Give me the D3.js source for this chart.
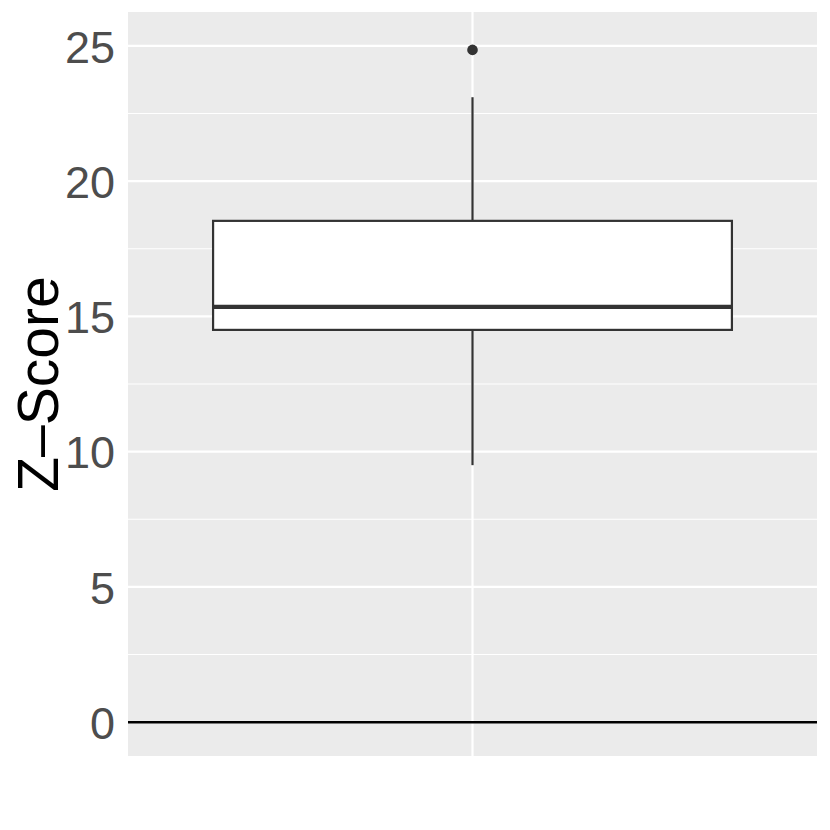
<!DOCTYPE html>
<html>
<head>
<meta charset="utf-8">
<script src="https://cdn.jsdelivr.net/npm/d3@7"></script>
<style>
  body { margin: 0; background: #fff; }
  svg text { font-family: "Liberation Sans", Arial, sans-serif; }
</style>
</head>
<body>
<div id="chart"></div>
<script>
// box summary
let categories = ["all"];
let lowerWhisker = [9.5];
let q1 = [14.5];
let median = [15.35];
let q3 = [18.53];
let upperWhisker = [23.1];
let outliers = [[24.85]];
let yTicks = [0, 5, 10, 15, 20, 25];
let yMinor = [2.5, 7.5, 12.5, 17.5, 22.5];

let W = 830, H = 830;
let panel = {left: 128, right: 817, top: 12, bottom: 756};

let svg = d3.select("#chart")
    .append("svg")
    .attr("width", W)
    .attr("height", H);

let x = d3.scaleBand()
    .domain(categories)
    .range([panel.left, panel.right])
    .paddingInner(0)
    .paddingOuter(0.164);

let y = d3.scaleLinear()
    .domain([-1.25, 26.25])
    .range([panel.bottom, panel.top]);

// panel background
svg.append("rect")
    .attr("x", panel.left)
    .attr("y", panel.top)
    .attr("width", panel.right - panel.left)
    .attr("height", panel.bottom - panel.top)
    .attr("fill", "#EBEBEB");

// grid lines
svg.selectAll(".minor")
    .data(yMinor)
    .enter()
    .append("line")
    .attr("x1", panel.left).attr("x2", panel.right)
    .attr("y1", d => y(d)).attr("y2", d => y(d))
    .attr("stroke", "#fff").attr("stroke-width", 1.1);

svg.selectAll(".major")
    .data(yTicks)
    .enter()
    .append("line")
    .attr("x1", panel.left).attr("x2", panel.right)
    .attr("y1", d => y(d)).attr("y2", d => y(d))
    .attr("stroke", "#fff").attr("stroke-width", 2.2);

svg.selectAll(".vmajor")
    .data(categories)
    .enter()
    .append("line")
    .attr("x1", d => x(d) + x.bandwidth() / 2)
    .attr("x2", d => x(d) + x.bandwidth() / 2)
    .attr("y1", panel.top).attr("y2", panel.bottom)
    .attr("stroke", "#fff").attr("stroke-width", 2.2);

// y axis labels
let yAxis = d3.axisLeft(y).tickValues(yTicks).tickSize(0).tickPadding(13);
let gy = svg.append("g")
    .attr("transform", `translate(${panel.left},0)`)
    .call(yAxis);
gy.select(".domain").remove();
gy.selectAll("text")
    .attr("fill", "#4D4D4D")
    .style("font-size", "45px")
    .attr("dy", "0.36em");

// box plot
let boxes = svg.selectAll(".box")
    .data(categories)
    .enter()
    .append("g");

boxes.append("line")
    .attr("x1", d => x(d) + x.bandwidth() / 2)
    .attr("x2", d => x(d) + x.bandwidth() / 2)
    .attr("y1", (d, i) => y(upperWhisker[i]))
    .attr("y2", (d, i) => y(q3[i]))
    .attr("stroke", "#333").attr("stroke-width", 2.2);

boxes.append("line")
    .attr("x1", d => x(d) + x.bandwidth() / 2)
    .attr("x2", d => x(d) + x.bandwidth() / 2)
    .attr("y1", (d, i) => y(q1[i]))
    .attr("y2", (d, i) => y(lowerWhisker[i]))
    .attr("stroke", "#333").attr("stroke-width", 2.2);

boxes.append("rect")
    .attr("x", d => x(d))
    .attr("width", x.bandwidth())
    .attr("y", (d, i) => y(q3[i]))
    .attr("height", (d, i) => y(q1[i]) - y(q3[i]))
    .attr("fill", "#fff")
    .attr("stroke", "#333").attr("stroke-width", 2.2);

boxes.append("line")
    .attr("x1", d => x(d))
    .attr("x2", d => x(d) + x.bandwidth())
    .attr("y1", (d, i) => y(median[i]))
    .attr("y2", (d, i) => y(median[i]))
    .attr("stroke", "#333").attr("stroke-width", 4.4);

boxes.each(function(d, i) {
    d3.select(this).selectAll("circle")
        .data(outliers[i])
        .enter()
        .append("circle")
        .attr("cx", x(d) + x.bandwidth() / 2)
        .attr("cy", v => y(v))
        .attr("r", 5.3)
        .attr("fill", "#333");
});

// reference line at zero
svg.append("line")
    .attr("x1", panel.left).attr("x2", panel.right)
    .attr("y1", y(0)).attr("y2", y(0))
    .attr("stroke", "#000").attr("stroke-width", 2.5);

// axis title
svg.append("text")
    .attr("text-anchor", "middle")
    .attr("transform", `translate(58,${(panel.top + panel.bottom) / 2})rotate(-90)`)
    .style("font-size", "57px")
    .attr("fill", "#000")
    .text("Z\u2013Score");
</script>
</body>
</html>
